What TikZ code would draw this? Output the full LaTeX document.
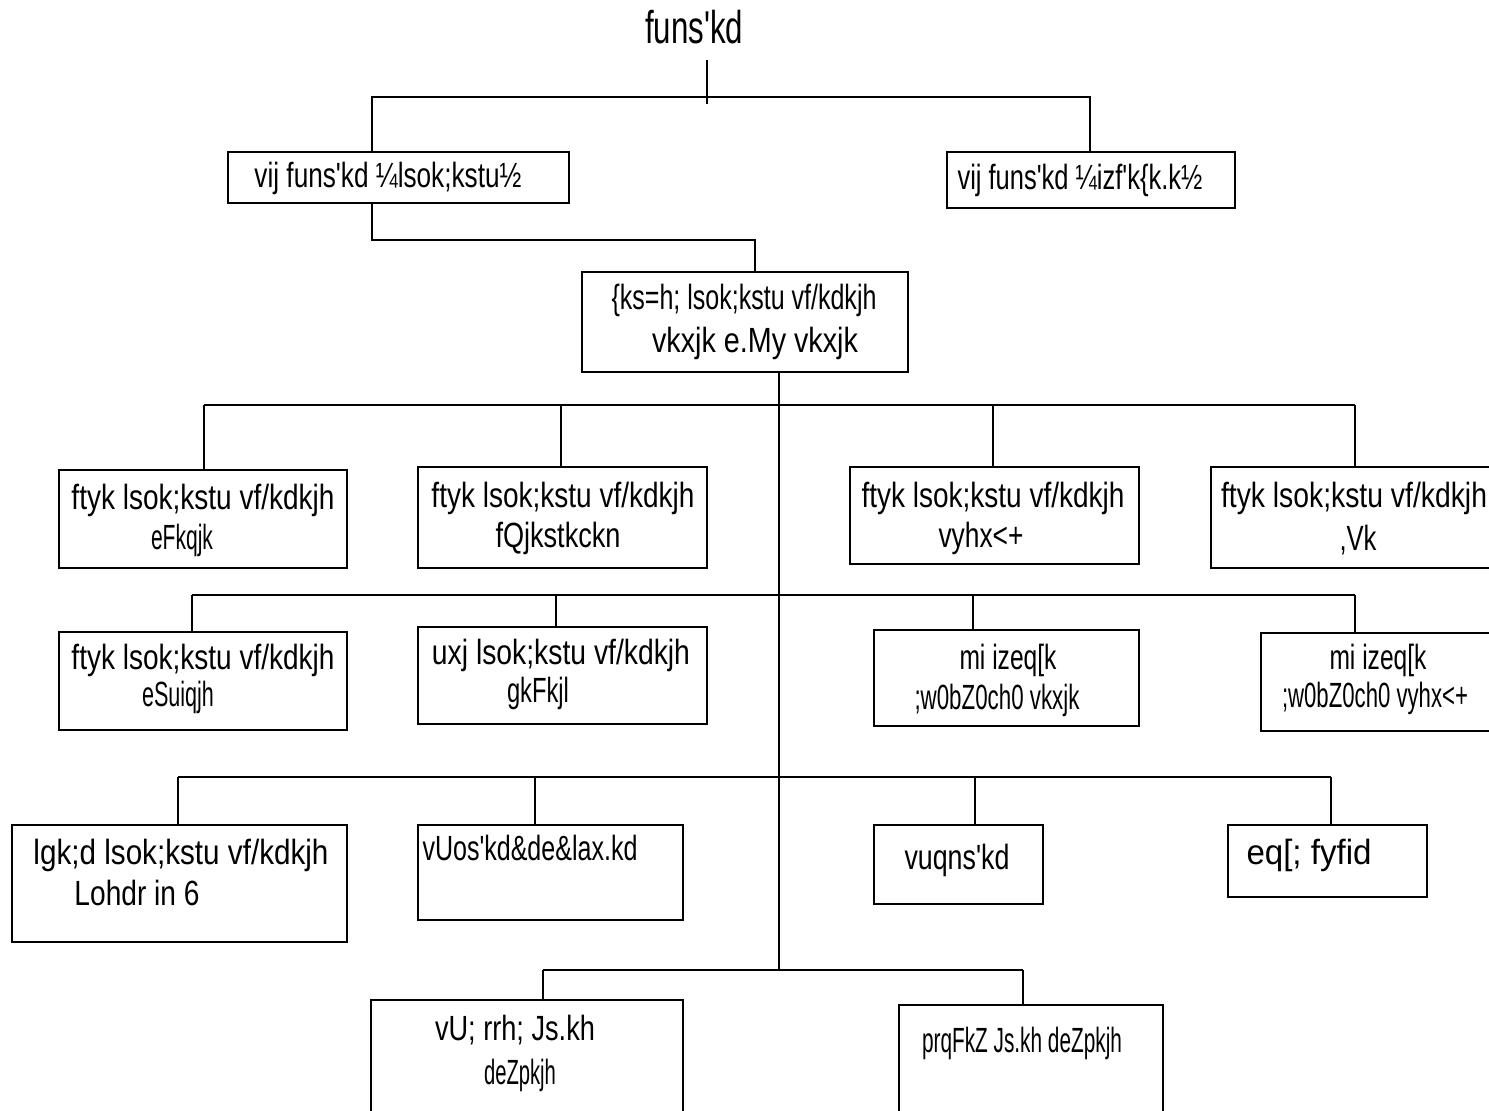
\documentclass[tikz,border=0pt]{standalone}
\usepackage{graphicx}
\usepackage{fontspec}
\setmainfont{Liberation Sans}
\newcommand{\qs}{\textquotesingle}
\newcommand{\tw}[2]{\resizebox{#1pt}{\height}{#2}}
\begin{document}
\begin{tikzpicture}[x=1pt,y=-1pt,
  box/.style={draw,line width=1.6pt,inner sep=0pt,outer sep=0pt},
  txt/.style={inner sep=0pt,font=\fontsize{35}{42}\selectfont},
  ttl/.style={inner sep=0pt,font=\fontsize{46}{52}\selectfont},
  ln/.style={line width=1.6pt}]
\clip (0,0) rectangle (1489,1111);
\fill[white] (0,0) rectangle (1489,1111);
% title
\node[ttl] (title) at (694,27) {\tw{98}{funs\qs kd}};
% boxes
\node[box,minimum width=341,minimum height=51] (b1) at (398.5,177.5) {};
\node[box,minimum width=288,minimum height=56] (b2) at (1091,180) {};
\node[box,minimum width=326,minimum height=100] (b3) at (745,322) {};
\node[box,minimum width=288,minimum height=98] (b4) at (203,519) {};
\node[box,minimum width=289,minimum height=101] (b5) at (562.5,517.5) {};
\node[box,minimum width=289,minimum height=97] (b6) at (994.5,515.5) {};
\node[box,minimum width=284,minimum height=101] (b7) at (1353,517.5) {};
\node[box,minimum width=288,minimum height=98] (b8) at (203,681) {};
\node[box,minimum width=289,minimum height=97] (b9) at (562.5,675.5) {};
\node[box,minimum width=265,minimum height=96] (b10) at (1006.5,678) {};
\node[box,minimum width=234,minimum height=98] (b11) at (1378,682) {};
\node[box,minimum width=335,minimum height=117] (b12) at (179.5,883.5) {};
\node[box,minimum width=265,minimum height=95] (b13) at (550.5,872.5) {};
\node[box,minimum width=169,minimum height=79] (b14) at (958.5,864.5) {};
\node[box,minimum width=199,minimum height=72] (b15) at (1327.5,861) {};
\node[box,minimum width=312,minimum height=115] (b16) at (527,1057.5) {};
\node[box,minimum width=264,minimum height=110] (b17) at (1031,1060) {};
% texts
\node[txt] (t1) at (388,178) {\tw{267}{vij funs\qs kd ¼lsok;kstu½}};
\node[txt] (t2) at (1080,180) {\tw{245}{vij funs\qs kd ¼izf\qs k\{k.k½}};
\node[txt] (t3a) at (744,300) {\tw{265}{\{ks=h; lsok;kstu vf/kdkjh}};
\node[txt] (t3b) at (755,343) {\tw{206}{vkxjk e.My vkxjk}};
\node[txt] (t4a) at (203,500) {\tw{263}{ftyk lsok;kstu vf/kdkjh}};
\node[txt] (t4b) at (182,540) {\tw{62}{eFkqjk}};
\node[txt] (t5a) at (563,498) {\tw{263}{ftyk lsok;kstu vf/kdkjh}};
\node[txt] (t5b) at (558,538) {\tw{125}{fQjkstkckn}};
\node[txt] (t6a) at (993,498) {\tw{263}{ftyk lsok;kstu vf/kdkjh}};
\node[txt] (t6b) at (981,538) {\tw{85}{vyhx<+}};
\node[txt] (t7a) at (1354,498) {\tw{266}{ftyk lsok;kstu vf/kdkjh}};
\node[txt] (t7b) at (1358,540) {\tw{37}{,Vk}};
\node[txt] (t8a) at (203,660) {\tw{263}{ftyk lsok;kstu vf/kdkjh}};
\node[txt] (t8b) at (178,697) {\tw{72}{eSuiqjh}};
\node[txt] (t9a) at (561,655) {\tw{258}{uxj lsok;kstu vf/kdkjh}};
\node[txt] (t9b) at (538,693) {\tw{62}{gkFkjl}};
\node[txt] (t10a) at (1008,660) {\tw{97}{mi izeq[k}};
\node[txt] (t10b) at (997,700) {\tw{165}{;w0bZ0ch0 vkxjk}};
\node[txt] (t11a) at (1378,660) {\tw{97}{mi izeq[k}};
\node[txt] (t11b) at (1375,698) {\tw{186}{;w0bZ0ch0 vyhx<+}};
\node[txt] (t12a) at (181,855) {\tw{295}{lgk;d lsok;kstu vf/kdkjh}};
\node[txt] (t12b) at (137,893) {\tw{125}{Lohdr in 6}};
\node[txt] (t13) at (530,848) {\tw{215}{vUos\qs kd\&de\&lax.kd}};
\node[txt] (t14) at (957,860) {\tw{105}{vuqns\qs kd}};
\node[txt] (t15) at (1309,855) {\tw{125}{eq[; fyfid}};
\node[txt] (t16a) at (515,1030) {\tw{160}{vU; rrh; Js.kh}};
\node[txt] (t16b) at (520,1075) {\tw{72}{deZpkjh}};
\node[txt] (t17) at (1022,1043) {\tw{200}{prqFkZ Js.kh deZpkjh}};
% coordinates
\coordinate (a0) at (707,60); \coordinate (a1) at (707,104);
\coordinate (hL) at (372,97); \coordinate (hR) at (1090,97);
\coordinate (c1) at (372,240); \coordinate (c2) at (755,240);
\coordinate (tr) at (779,970);
\coordinate (r1a) at (204,405); \coordinate (r1b) at (561,405);
\coordinate (r1c) at (993,405); \coordinate (r1d) at (1355,405);
\coordinate (r2a) at (192,595); \coordinate (r2b) at (556,595);
\coordinate (r2c) at (973,595); \coordinate (r2d) at (1355,595);
\coordinate (r3a) at (178,777); \coordinate (r3b) at (535,777);
\coordinate (r3c) at (975,777); \coordinate (r3d) at (1331,777);
\coordinate (r4a) at (543,970); \coordinate (r4b) at (1023,970);
% connectors
\draw[ln] (a0) -- (a1);
\draw[ln] (b1.north -| hL) -- (hL) -- (hR) -- (b2.north -| hR);
\draw[ln] (b1.south -| c1) -- (c1) -- (c2) -- (b3.north -| c2);
\draw[ln] (b3.south -| tr) -- (tr);
\draw[ln] (r1a) -- (r1d);
\draw[ln] (r1a) -- (b4.north -| r1a);
\draw[ln] (r1b) -- (b5.north -| r1b);
\draw[ln] (r1c) -- (b6.north -| r1c);
\draw[ln] (r1d) -- (b7.north -| r1d);
\draw[ln] (r2a) -- (r2d);
\draw[ln] (r2a) -- (b8.north -| r2a);
\draw[ln] (r2b) -- (b9.north -| r2b);
\draw[ln] (r2c) -- (b10.north -| r2c);
\draw[ln] (r2d) -- (b11.north -| r2d);
\draw[ln] (r3a) -- (r3d);
\draw[ln] (r3a) -- (b12.north -| r3a);
\draw[ln] (r3b) -- (b13.north -| r3b);
\draw[ln] (r3c) -- (b14.north -| r3c);
\draw[ln] (r3d) -- (b15.north -| r3d);
\draw[ln] (r4a) -- (r4b);
\draw[ln] (r4a) -- (b16.north -| r4a);
\draw[ln] (r4b) -- (b17.north -| r4b);
\end{tikzpicture}
\end{document}
